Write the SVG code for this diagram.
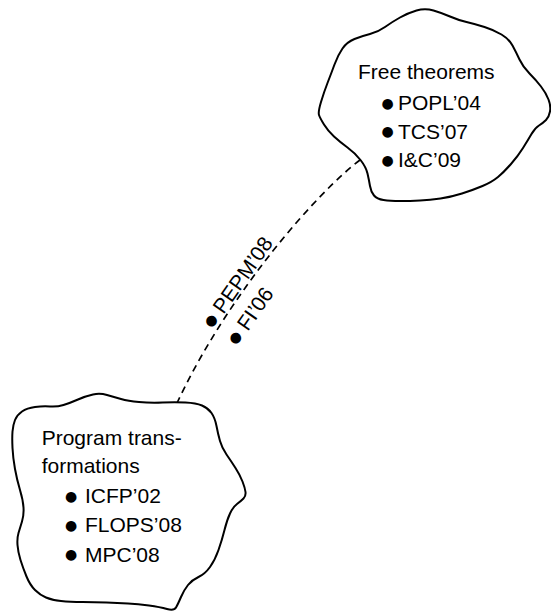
<svg xmlns="http://www.w3.org/2000/svg" width="551" height="615" viewBox="0 0 551 615">
<style>
.cloud{fill:#fff;stroke:#000;stroke-width:2;stroke-linejoin:round}
.t{font-family:"Liberation Sans",Arial,sans-serif;font-size:21px;fill:#000}
.b{font-family:"DejaVu Sans",sans-serif;font-size:14px;fill:#000;text-anchor:middle;dominant-baseline:central}
.dash{fill:none;stroke:#000;stroke-width:1.7;stroke-dasharray:7 5}
</style>
<rect width="551" height="615" fill="#fff"/>
<g id="connectors">
<path class="dash" d="M360,160 C320,190 230,290 177,403"/>
<g id="edge-label" transform="translate(210.5,320.5) rotate(-55)">
<text class="b" x="0" y="0">●</text>
<text class="t" x="12" y="7.5">PEPM’08</text>
<text class="b" x="0" y="29.5">●</text>
<text class="t" x="12" y="37">FI’06</text>
</g>
</g>
<g id="free-theorems">
<path class="cloud" d="M319,115 Q318,112 321,102 Q324,92 327.5,83 Q331,74 334.5,64.5 Q338,55 342.5,48.5 Q347,42 354.5,39 Q362,36 370,34 Q378,32 385,27 Q392,22 400,17.5 Q408,13 416.5,10.5 Q425,8 433.5,10.5 Q442,13 450,16.5 Q458,20 466.5,22 Q475,24 484.5,27 Q494,30 501.5,34.5 Q509,39 512.5,45.5 Q516,52 519.5,59.5 Q523,67 529.5,73.5 Q536,80 541,86.5 Q546,93 548.5,99.5 Q551,106 550,111.5 Q549,117 546,120 Q543,123 539,125.5 Q535,128 531.5,134 Q528,140 523,148 Q518,156 511,164 Q504,172 498,177 Q492,182 482.5,186 Q473,190 462,193.5 Q451,197 440.5,198.5 Q430,200 420,200.5 Q410,201 400,201 Q390,201 383.5,200 Q377,199 374,195.5 Q371,192 370,186 Q369,180 367.5,173.5 Q366,167 360.5,160 Q355,153 347.5,147.5 Q340,142 334,136.5 Q328,131 324,124.5 Q320,118 319,115 Z"/>
<text class="t" x="358" y="79">Free theorems</text>
<text class="b" x="387.5" y="102.5">●</text>
<text class="t" x="398" y="110">POPL’04</text>
<text class="b" x="387.5" y="131">●</text>
<text class="t" x="398" y="138.5">TCS’07</text>
<text class="b" x="387.5" y="159.5">●</text>
<text class="t" x="398" y="167">I&amp;C’09</text>
</g>
<g id="program-transformations">
<path class="cloud" d="M12.5,431.5 Q13,425 15,420 Q17,415 22,411.5 Q27,408 35,407 Q43,406 50,406.5 Q57,407 63.5,405 Q70,403 78,399.5 Q86,396 93,394.5 Q100,393 107,395 Q114,397 121,399 Q128,401 139,402 Q150,403 162.5,402.5 Q175,402 185.5,402.5 Q196,403 202,405.5 Q208,408 211.5,413 Q215,418 216.5,426 Q218,434 220,441 Q222,448 226.5,454.5 Q231,461 235.5,468 Q240,475 242.5,481.5 Q245,488 245.5,492 Q246,496 243.5,498.5 Q241,501 237,504 Q233,507 230,513.5 Q227,520 224.5,530 Q222,540 218.5,550 Q215,560 210,567 Q205,574 198.5,577 Q192,580 188,585 Q184,590 181,597 Q178,604 176,607.5 Q174,611 167,609 Q160,607 149,605.5 Q138,604 128,603.5 Q118,603 106.5,602.5 Q95,602 82.5,602 Q70,602 61,601 Q52,600 46,597.5 Q40,595 35,590 Q30,585 26.5,576.5 Q23,568 20.5,560 Q18,552 17.5,545 Q17,538 18.5,533 Q20,528 22,521.5 Q24,515 23.5,507.5 Q23,500 20,490 Q17,480 15,469 Q13,458 12.5,448 Q12,438 12.5,431.5 Z"/>
<text class="t" x="41.7" y="445">Program trans-</text>
<text class="t" x="41.7" y="473">formations</text>
<text class="b" x="71" y="495.5">●</text>
<text class="t" x="85" y="503">ICFP’02</text>
<text class="b" x="71" y="524.5">●</text>
<text class="t" x="85" y="532">FLOPS’08</text>
<text class="b" x="71" y="554">●</text>
<text class="t" x="85" y="561.5">MPC’08</text>
</g>
</svg>
